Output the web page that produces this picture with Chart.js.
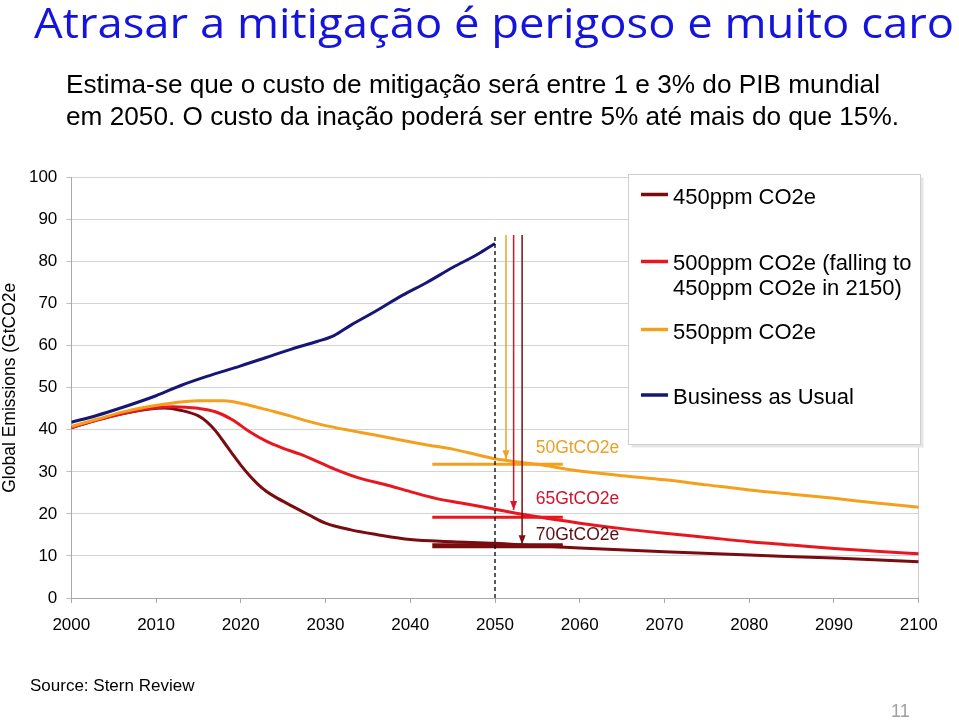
<!DOCTYPE html>
<html><head><meta charset="utf-8">
<script src="https://cdn.jsdelivr.net/npm/chart.js@4.4.1/dist/chart.umd.min.js"></script>
<style>
html,body{margin:0;padding:0;background:#fff;width:959px;height:721px;overflow:hidden;}
#wrap{position:relative;width:959px;height:721px;background:#fff;}
canvas{position:absolute;left:0;top:0;}
.txt{position:absolute;white-space:nowrap;transform-origin:0 0;}
#title{left:34px;top:1px;font-family:'Open Sans',Lato,sans-serif;font-size:42px;line-height:42px;color:#1414dc;}
#sub{left:66px;top:69px;font-family:'Liberation Sans',Arial,sans-serif;font-size:25.5px;line-height:31.6px;color:#000;}
#src{left:30px;top:676px;font:17px/19px 'Liberation Sans',Arial,sans-serif;color:#000;}
#pg{left:891px;top:701px;font:18px/20px 'Liberation Sans',Arial,sans-serif;color:#a0a0a0;}
</style></head><body>
<div id="wrap">
<canvas id="c" width="959" height="721"></canvas>
<div id="title" class="txt">Atrasar a mitigação é perigoso e muito caro</div>
<div id="sub" class="txt"><div id="sub1">Estima-se que o custo de mitigação será entre 1 e 3% do PIB mundial</div><div id="sub2">em 2050. O custo da inação poderá ser entre 5% até mais do que 15%.</div></div>
<div id="src" class="txt">Source: Stern Review</div>
<div id="pg" class="txt">11</div>
</div>
<script>
// ---------- DATA ----------
const seriesNames = ['450ppm CO2e', '500ppm CO2e (falling to\n450ppm CO2e in 2150)', '550ppm CO2e', 'Business as Usual'];

const years450 = [2000,2003,2006,2009,2011,2013,2015,2016,2017,2018,2019,2020,2021,2022,2023,2024,2026,2028,2030,2033,2036,2040,2045,2050,2055,2060,2070,2080,2090,2100];
const emis450  = [40.5,42.3,43.8,44.9,45.2,44.6,43.3,41.9,39.8,37.1,34.3,31.6,29.2,27.1,25.4,24.1,21.9,19.8,17.8,16.2,15.1,13.9,13.4,13.0,12.4,11.9,11.0,10.2,9.5,8.6];

const years500 = [2000,2003,2006,2009,2012,2015,2017,2019,2021,2023,2025,2027,2029,2031,2034,2037,2040,2043,2046,2050,2055,2060,2065,2070,2075,2080,2085,2090,2095,2100];
const emis500  = [40.5,42.3,43.8,45.0,45.5,45.1,44.3,42.4,39.6,37.3,35.6,34.2,32.5,30.7,28.5,27.0,25.3,23.7,22.6,21.1,19.3,17.8,16.5,15.4,14.4,13.4,12.6,11.8,11.1,10.5];

const years550 = [2000,2003,2006,2009,2012,2015,2018,2020,2022,2024,2026,2028,2030,2033,2036,2039,2042,2045,2048,2050,2055,2060,2065,2070,2075,2080,2085,2090,2095,2100];
const emis550  = [40.8,42.5,44.2,45.5,46.4,46.9,46.9,46.3,45.3,44.3,43.2,42.0,41.0,39.8,38.7,37.5,36.4,35.4,34.0,33.1,31.8,30.2,29.1,28.1,26.9,25.7,24.7,23.7,22.6,21.6];

const yearsBAU = [2000,2003,2006,2010,2013,2016,2020,2023,2026,2029,2031,2033,2036,2039,2042,2045,2048,2050];
const emisBAU  = [41.8,43.4,45.3,48.1,50.6,52.7,55.2,57.2,59.2,61.0,62.4,64.9,68.3,71.9,75.1,78.6,81.8,84.3];

const markerYear = 2050;        // dashed vertical line
const markerTop = 86.3;
const barFrom = 2042.6, barTo = 2058;           // target bars
const targetLevels = [12.4, 19.2, 31.8];        // 450, 500, 550
const arrowYears = [2053.2, 2052.2, 2051.3];    // 450, 500, 550
const arrowTips = [12.8, 20.9, 33.0];
const targetLabels = ['70GtCO2e', '65GtCO2e', '50GtCO2e'];
const targetLabelValues = [15.0, 23.5, 35.7];
const targetLabelYear = 2054.8;

const xTickYears = [2000,2010,2020,2030,2040,2050,2060,2070,2080,2090,2100];
const yTickValues = [0,10,20,30,40,50,60,70,80,90,100];
const yAxisTitle = 'Global Emissions (GtCO2e';

// ---------- STYLE ----------
const seriesColors = ['#7a0c10', '#e8161f', '#f5a01c', '#161677'];
const labelColors = ['#5e0f14', '#cc1530', '#e9a126'];
const arrowColors = ['#7a1014', '#dc1424', '#f0a22a'];
const FONT = "'Liberation Sans', Arial, sans-serif";

function pts(xs, ys) { return xs.map((x, i) => ({ x: x, y: ys[i] })); }

const datasets = [];
const seriesYears = [years450, years500, years550, yearsBAU];
const seriesVals = [emis450, emis500, emis550, emisBAU];
seriesNames.forEach((n, i) => {
  datasets.push({ label: n, data: pts(seriesYears[i], seriesVals[i]), borderColor: seriesColors[i],
    borderWidth: 3, pointRadius: 0, fill: false, cubicInterpolationMode: 'monotone', order: 10 - i, isSeries: true });
});
targetLevels.forEach((v, i) => {
  datasets.push({ label: 'bar' + i, data: pts([barFrom, barTo], [v, v]), borderColor: seriesColors[i],
    borderWidth: i === 0 ? 5 : 3, pointRadius: 0, order: 1 });
});
datasets.push({ label: 'marker', data: pts([markerYear, markerYear], [0, markerTop]), borderColor: '#000',
  borderWidth: 1.3, borderDash: [4, 3], pointRadius: 0, order: 0 });
arrowYears.forEach((x, i) => {
  datasets.push({ label: 'arrow' + i, data: pts([x, x], [markerTop, arrowTips[i]]), borderColor: arrowColors[i],
    borderWidth: 1.5, pointRadius: 0, order: 0, isArrow: true });
});

const overlay = {
  id: 'overlay',
  afterDatasetsDraw(chart) {
    const ctx = chart.ctx;
    const xs = chart.scales.x, ys = chart.scales.y;
    ctx.save();
    chart.data.datasets.forEach((ds, i) => {
      if (!ds.isArrow) return;
      const meta = chart.getDatasetMeta(i);
      const p = meta.data[meta.data.length - 1];
      ctx.fillStyle = ds.borderColor;
      ctx.beginPath();
      ctx.moveTo(p.x, p.y);
      ctx.lineTo(p.x - 3.5, p.y - 9);
      ctx.lineTo(p.x + 3.5, p.y - 9);
      ctx.closePath();
      ctx.fill();
    });
    ctx.font = '17.5px ' + FONT;
    ctx.textBaseline = 'middle';
    ctx.textAlign = 'left';
    targetLabels.forEach((t, i) => {
      ctx.fillStyle = labelColors[i];
      ctx.fillText(t, xs.getPixelForValue(targetLabelYear), ys.getPixelForValue(targetLabelValues[i]));
    });
    ctx.restore();
  },
  afterDraw(chart) {
    const ctx = chart.ctx;
    ctx.save();
    const bx = 628.5, by = 174.5, bw = 292, bh = 270;
    ctx.fillStyle = '#e6e6e6';
    ctx.fillRect(bx + 3, by + 3, bw, bh);
    ctx.fillStyle = '#fff';
    ctx.fillRect(bx, by, bw, bh);
    ctx.strokeStyle = '#cfcfcf';
    ctx.lineWidth = 1;
    ctx.strokeRect(bx, by, bw, bh);
    const lineY = [194.5, 261.5, 329.5, 395];
    const baseY = [204, 270, 338.5, 403.5];
    ctx.font = '22px ' + FONT;
    ctx.textAlign = 'left';
    ctx.textBaseline = 'alphabetic';
    chart.data.datasets.filter(d => d.isSeries).forEach((ds, i) => {
      ctx.strokeStyle = ds.borderColor;
      ctx.lineWidth = 3.5;
      ctx.beginPath();
      ctx.moveTo(641, lineY[i]);
      ctx.lineTo(668, lineY[i]);
      ctx.stroke();
      ctx.fillStyle = '#000';
      ds.label.split('\n').forEach((ln, k) => ctx.fillText(ln, 673, baseY[i] + k * 25));
    });
    ctx.restore();
  }
};

new Chart(document.getElementById('c'), {
  type: 'line',
  data: { datasets: datasets },
  options: {
    responsive: false, animation: false,
    layout: { padding: { left: 0, top: 177.5, right: 40.3, bottom: 83 } },
    plugins: { legend: { display: false }, tooltip: { enabled: false }, title: { display: false } },
    scales: {
      x: {
        type: 'linear', min: 2000, max: 2100,
        afterBuildTicks: s => { s.ticks = xTickYears.map(v => ({ value: v })); },
        afterFit: s => { s.height = 40; },
        ticks: { color: '#000', font: { family: FONT, size: 17 }, padding: 12, maxRotation: 0, autoSkip: false,
                 callback: v => String(v) },
        grid: { drawOnChartArea: true, tickLength: 5, tickColor: '#a8a8a8',
                color: c => (c.tick && c.tick.value === 2100) ? '#d0d0d0' : 'rgba(0,0,0,0)' },
        border: { color: '#a8a8a8', width: 1 }
      },
      y: {
        min: 0, max: 100,
        afterBuildTicks: s => { s.ticks = yTickValues.map(v => ({ value: v })); },
        afterFit: s => { s.width = 71.3; },
        ticks: { color: '#000', font: { family: FONT, size: 17 }, padding: 9, callback: v => String(v) },
        grid: { color: '#d3d3d3', tickLength: 5, tickColor: '#c0c0c0' },
        border: { color: '#a8a8a8', width: 1 },
        title: { display: true, text: yAxisTitle, color: '#000', font: { family: FONT, size: 17.5 }, padding: { top: 0, bottom: 0 } }
      }
    }
  },
  plugins: [overlay]
});

function fitWidth(el, measureEl, target) {
  const w = measureEl.getBoundingClientRect().width;
  if (w > 0) el.style.transform = 'scaleX(' + (target / w) + ')';
}
const s1 = document.getElementById('sub1');
s1.style.display = 'inline-block';
fitWidth(document.getElementById('title'), document.getElementById('title'), 920);
fitWidth(document.getElementById('sub'), s1, 814);
</script>
</body></html>
